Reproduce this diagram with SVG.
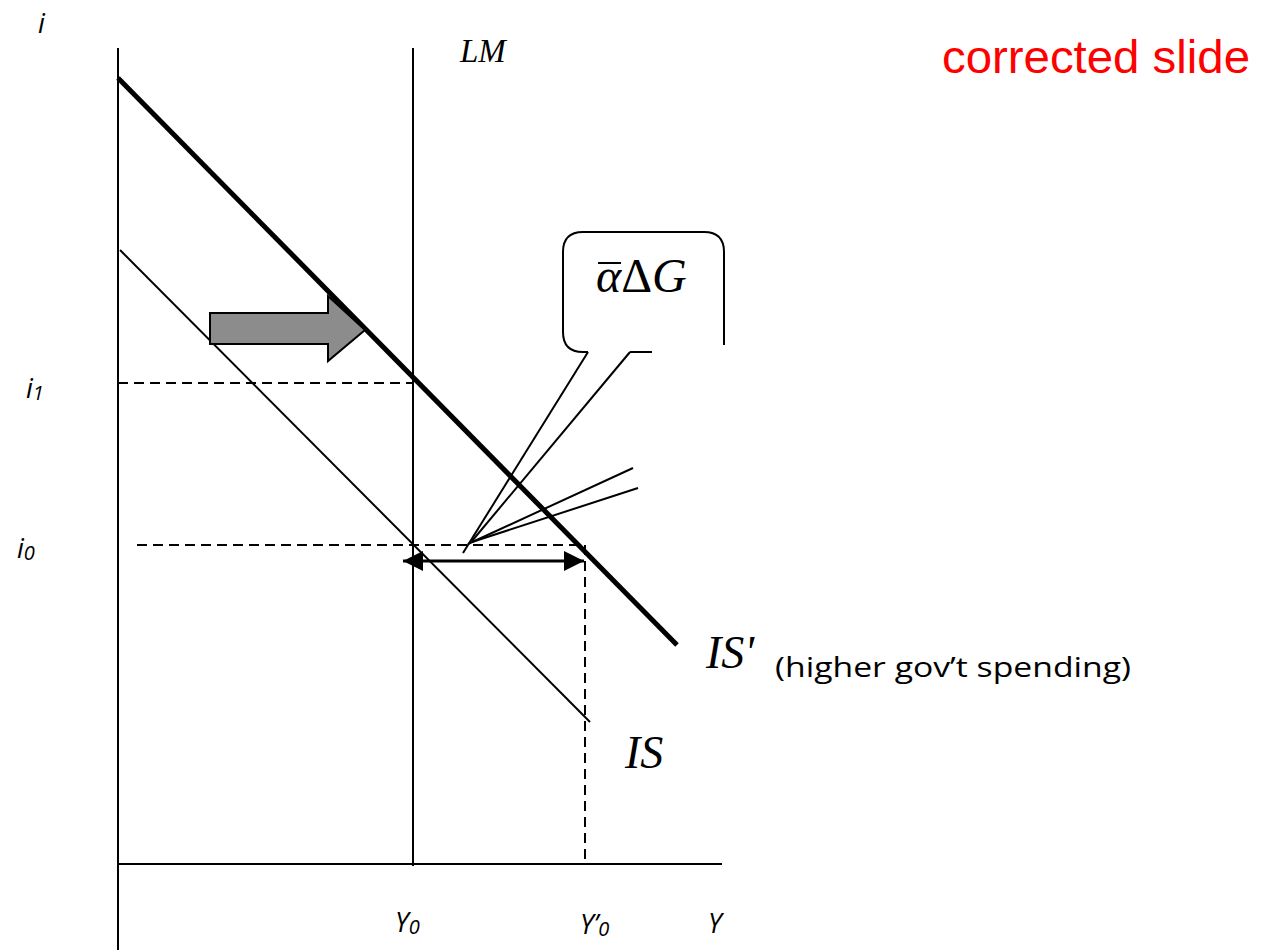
<svg xmlns="http://www.w3.org/2000/svg" width="1261" height="950" viewBox="0 0 1261 950">
<style>
.ax{stroke:#000;stroke-width:2;fill:none}
.thin{stroke:#000;stroke-width:2;fill:none}
.dash{stroke:#000;stroke-width:2;fill:none;stroke-dasharray:10 6}
.lab{font-family:"Open Sans","Liberation Sans",sans-serif;font-style:italic;font-size:27px;fill:#000}
.sub{font-size:20px}
.ser{font-family:"Liberation Serif",serif;font-style:italic;fill:#000}
</style>
<defs>
<marker id="ah" viewBox="0 0 10 10" refX="10" refY="5" markerWidth="20" markerHeight="20" markerUnits="userSpaceOnUse" orient="auto-start-reverse">
<path d="M0,0 L10,5 L0,10 z" fill="#000"/>
</marker>
</defs>
<rect width="1261" height="950" fill="#fff"/>
<g id="axes">
<line class="ax" x1="118" y1="48" x2="118" y2="950"/>
<line class="ax" x1="118" y1="864" x2="722" y2="864"/>
</g>
<g id="connectors">
<line class="dash" x1="118" y1="383" x2="413" y2="383"/>
<line class="dash" x1="137" y1="545" x2="585" y2="545"/>
<line class="dash" x1="585" y1="545" x2="585" y2="862"/>
<line x1="403" y1="561" x2="584" y2="561" stroke="#000" stroke-width="3" marker-start="url(#ah)" marker-end="url(#ah)"/>
</g>
<g id="LM">
<line class="thin" x1="413" y1="48" x2="413" y2="866"/>
<text class="ser" x="460" y="62" font-size="33">LM</text>
</g>
<g id="IS">
<line class="thin" x1="120" y1="250" x2="590" y2="722"/>
<text class="ser" x="625" y="768" font-size="46">IS</text>
</g>
<g id="ISprime">
<line x1="118" y1="78" x2="677" y2="645" stroke="#000" stroke-width="5"/>
<text class="ser" x="706" y="668" font-size="46">IS'</text>
<text x="775" y="677" font-family="Open Sans,Liberation Sans,sans-serif" font-size="28" textLength="356" lengthAdjust="spacingAndGlyphs">(higher gov’t spending)</text>
</g>
<g id="shift-arrow">
<path d="M210,313 L328,313 L328,296 L365,330 L328,361 L328,344 L210,344 z" fill="#8c8c8c" stroke="#000" stroke-width="2"/>
</g>
<g id="callout">
<path d="M588,352 L583,352 Q563,352 563,332 L563,252 Q563,232 583,232 L704,232 Q724,232 724,252 L724,345" fill="#fff" stroke="#000" stroke-width="2"/>
<path d="M630,352 L652,352" stroke="#000" stroke-width="2"/>
<line class="thin" x1="588" y1="352" x2="463" y2="553"/>
<line class="thin" x1="630" y1="352" x2="472" y2="541"/>
<line class="thin" x1="633" y1="468" x2="468" y2="544"/>
<line class="thin" x1="638" y1="488" x2="472" y2="542"/>
<text class="ser" x="596" y="292" font-size="48"><tspan>α</tspan><tspan font-style="normal">Δ</tspan><tspan>G</tspan></text>
<line x1="598" y1="263" x2="621" y2="263" stroke="#000" stroke-width="2"/>
</g>
<g id="labels">
<text class="lab" x="38" y="33">i</text>
<text class="lab" x="26" y="398">i<tspan class="sub" dy="2">1</tspan></text>
<text class="lab" x="17" y="558">i<tspan class="sub" dy="2">0</tspan></text>
<text class="lab" x="395" y="932">Y<tspan class="sub" dy="2">0</tspan></text>
<text class="lab" x="580" y="934">Y’<tspan class="sub" dy="2">0</tspan></text>
<text class="lab" x="708" y="933">Y</text>
<text x="942" y="73" font-family="Liberation Sans,Arial,sans-serif" font-size="46" fill="#f00" textLength="308" lengthAdjust="spacingAndGlyphs">corrected slide</text>
</g>
</svg>
